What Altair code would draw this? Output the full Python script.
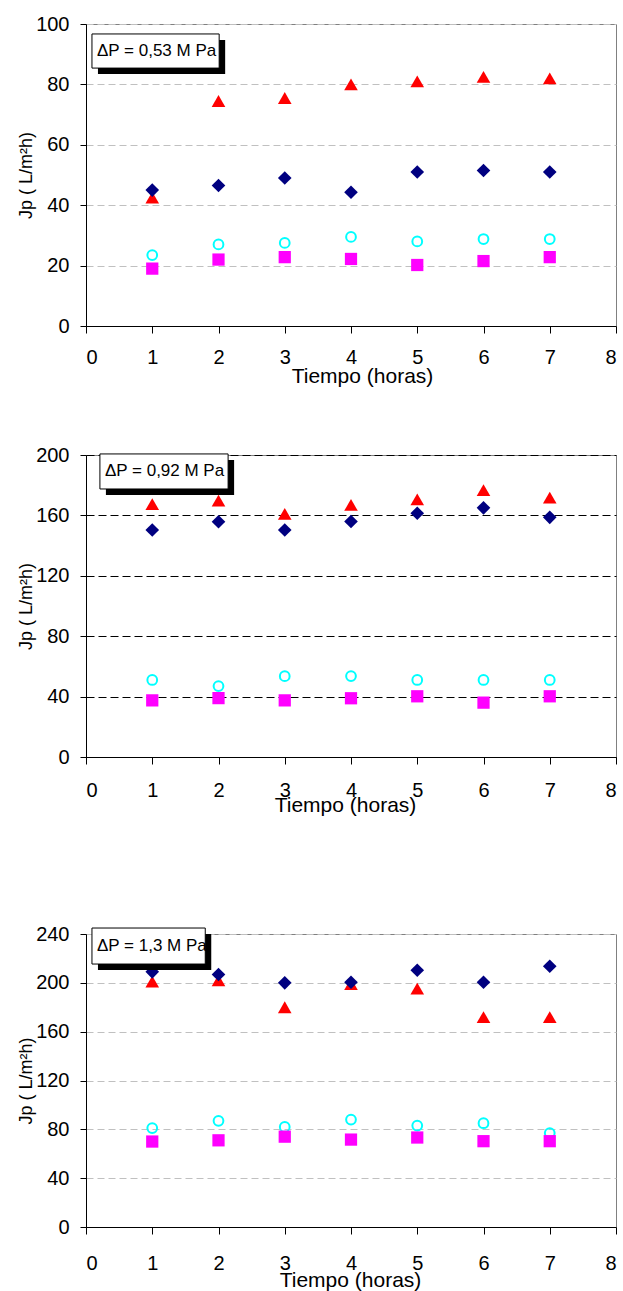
import altair as alt
import pandas as pd

FONT = "Liberation Sans"

hours = [1, 2, 3, 4, 5, 6, 7]

# Panel 1: dP = 0,53 MPa
p1_diamond = [45, 46.5, 49, 44.3, 51, 51.5, 51]
p1_triangle = [42.5, 74.5, 75.5, 80, 81, 82.5, 82]
p1_circle = [23.5, 27, 27.5, 29.5, 28, 28.8, 28.8]
p1_square = [19, 22, 22.8, 22.2, 20.2, 21.5, 22.8]

# Panel 2: dP = 0,92 MPa
p2_diamond = [150.3, 155.8, 150.3, 156, 161.4, 165, 158.7]
p2_triangle = [167.5, 169.8, 161, 166.9, 170.6, 176.8, 171.7]
p2_circle = [51, 47, 53.5, 53.6, 51, 51, 51]
p2_square = [37.5, 39, 37.5, 38.9, 40.2, 36, 40.2]

# Panel 3: dP = 1,3 MPa
p3_diamond = [209, 206.8, 200, 200.5, 210.3, 200.5, 213.6]
p3_triangle = [201, 202, 180, 199, 195.2, 172, 172]
p3_circle = [81, 87, 82, 88, 83.1, 85, 76.9]
p3_square = [70, 71, 74, 71.6, 73.3, 70.3, 70.3]

y_max = [100, 200, 240]
y_ticks = [[0, 20, 40, 60, 80, 100], [0, 40, 80, 120, 160, 200], [0, 40, 80, 120, 160, 200, 240]]
x_ticks = [0, 1, 2, 3, 4, 5, 6, 7, 8]

box_labels = ["\u0394P = 0,53 M Pa", "\u0394P = 0,92 M Pa", "\u0394P = 1,3 M Pa"]
box_x0 = [0.09, 0.21, 0.09]
box_x1 = [2.01, 2.145, 1.80]
box_ytop = [96.7, 200.7, 244.9]
box_ybot = [85.4, 177.5, 215.4]

grid_colors = ["#c0c0c0", "#000000", "#c0c0c0"]
grid_dashes = [[7, 4], [8, 4], [7, 4]]
heights = [302, 302, 293]
x_label_pad = [14.5, 16.5, 19.5]
x_title_x = [276, 259, 264]
x_title_y = [56, 54, 59]


def panel(i, diamond, triangle, circle, square):
    xax = alt.Axis(values=x_ticks, title="Tiempo (horas)", grid=False,
                   tickSize=7, tickColor="#000000", domainColor="#000000",
                   labelPadding=x_label_pad[i], labelFontSize=20, titleFontSize=21,
                   labelFont=FONT, titleFont=FONT, labelColor="#000000", titleColor="#000000",
                   titleFontWeight="normal", titleX=x_title_x[i], titleY=x_title_y[i],
                   titleAlign="center", titleBaseline="alphabetic", format="d")
    yax = alt.Axis(values=y_ticks[i], title="Jp ( L/m\u00b2h)", grid=True,
                   gridColor=grid_colors[i], gridDash=grid_dashes[i], gridWidth=1,
                   tickSize=6, tickColor="#000000", domainColor="#000000",
                   labelPadding=11, labelFontSize=20, titleFontSize=18,
                   labelFont=FONT, titleFont=FONT, labelColor="#000000", titleColor="#000000",
                   titleFontWeight="normal", titlePadding=0, format="d")
    xs = alt.Scale(domain=[0, 8], nice=False)
    ys = alt.Scale(domain=[0, y_max[i]], nice=False)

    def X(f):
        return alt.X(f, type="quantitative", scale=xs, axis=xax)

    def Y(f):
        return alt.Y(f, type="quantitative", scale=ys, axis=yax)

    def series(vals, **mk):
        df = pd.DataFrame({"h": hours, "v": vals})
        return alt.Chart(df).mark_point(**mk).encode(x=X("h"), y=Y("v"))

    tri = series(triangle, shape="triangle-up", filled=True, color="#ff0000", size=185, opacity=1)
    cir = series(circle, shape="circle", filled=False, color="#00ffff", size=95, strokeWidth=2, opacity=1)
    sq = series(square, shape="square", filled=True, color="#ff00ff", size=150, opacity=1)
    dia = series(diamond, shape="diamond", filled=True, color="#000080", size=185, opacity=1)

    bdf = pd.DataFrame({"x0": [box_x0[i]], "x1": [box_x1[i]],
                        "yt": [box_ytop[i]], "yb": [box_ybot[i]],
                        "ym": [(box_ytop[i] + box_ybot[i]) / 2],
                        "label": [box_labels[i]]})
    shadow = alt.Chart(bdf).mark_rect(color="#000000", xOffset=6, x2Offset=6,
                                      yOffset=6, y2Offset=6).encode(
        x=X("x0"), x2="x1", y=Y("yt"), y2="yb")
    box = alt.Chart(bdf).mark_rect(fill="#ffffff", stroke="#000000", strokeWidth=1).encode(
        x=X("x0"), x2="x1", y=Y("yt"), y2="yb")
    txt = alt.Chart(bdf).mark_text(align="left", baseline="middle", dx=5, fontSize=17,
                                   font=FONT, color="#000000").encode(
        x=X("x0"), y=Y("ym"), text="label:N")

    return alt.layer(tri, cir, sq, dia, shadow, box, txt).properties(width=530, height=heights[i])


c1 = panel(0, p1_diamond, p1_triangle, p1_circle, p1_square)
c2 = panel(1, p2_diamond, p2_triangle, p2_circle, p2_square)
c3 = panel(2, p3_diamond, p3_triangle, p3_circle, p3_square)

chart = alt.vconcat(
    alt.vconcat(c1, c2, spacing=57),
    c3,
    spacing=107,
).properties(
    padding={"left": 17, "top": 13, "right": 2, "bottom": 0},
    background="#ffffff",
).configure_view(stroke="#808080", strokeWidth=1)

chart.save("out.html", embed_options={"renderer": "svg", "actions": False})
